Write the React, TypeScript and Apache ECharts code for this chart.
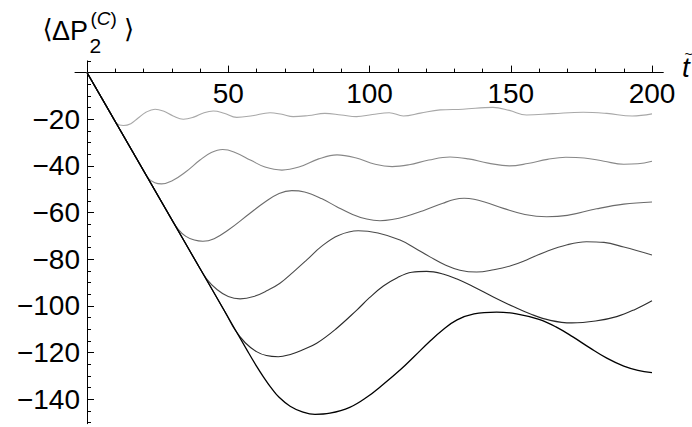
import React, { useEffect, useRef } from "react";
import * as echarts from "echarts";

// ---- data (t, <ΔP2^(C)>) ----
const curve1: [number, number][] = [
  [0, 0], [5, -10.5], [8, -16.8], [10.5, -21.8], [12.9, -22.7], [15.5, -21.9], [18, -19.6], [21, -16.9],
  [24.1, -15.7], [27, -16.5], [30.5, -18.6], [34.1, -20], [38, -19], [41, -17.4], [44.7, -16.5],
  [48.5, -17.4], [53, -19.2], [58.5, -18.5], [64.8, -17.2], [69, -17.9], [73, -18.9], [78.5, -18.4],
  [84.2, -17.5], [90, -18.2], [95.4, -18.9], [101, -18], [107, -17.2], [112, -18.6], [118, -17.4],
  [125, -16], [133, -15.7], [143.7, -14.9], [149.5, -16.2], [155.6, -18.2], [165, -17.6],
  [175.6, -17], [184, -17.5], [193, -18.6], [200, -17.7],
];
const curve2: [number, number][] = [
  [0, 0], [10, -21], [19, -39.9], [21.7, -45.3], [24, -47.2], [26.4, -47.7], [30, -46.5], [35, -42.5],
  [40, -37.5], [44, -34.3], [48, -33], [52, -34], [58, -37.6], [63, -40.5], [69, -41.8], [75, -40.5],
  [82, -37], [88.5, -35.3], [95, -36.5], [102, -39.3], [108, -40.3], [114, -39.5], [121, -37.5],
  [128.5, -36.2], [135, -37], [142, -38.8], [149.5, -40], [156, -39], [163, -37.2], [169.5, -36.3],
  [176, -36.6], [183, -38], [190, -39.3], [195, -39.1], [200, -38],
];
const curve3: [number, number][] = [
  [0, 0], [10, -21], [20, -42], [29, -60.9], [32.3, -67.2], [35, -70.2], [38, -71.8], [41, -72.3], [45, -71.2],
  [50, -67.5], [57.7, -60.3], [63, -55.5], [68, -51.8], [72.5, -50.6], [77, -51.2], [83, -54],
  [88.4, -57.5], [94, -60.8], [99, -62.8], [103.7, -63.5], [108, -63], [113, -61.6], [119, -59.2],
  [126, -56], [130, -54.4], [133.5, -53.9], [137, -54.3], [141, -55.6], [147.4, -58.2], [155, -60.8],
  [162.7, -61.8], [170, -61.2], [180.4, -58.4], [190, -56.4], [200, -55.5],
];
const curve4: [number, number][] = [
  [0, 0], [10, -21], [20, -42], [30, -63], [39, -81.9], [42.4, -88.5], [46, -93], [50, -96], [54.2, -97],
  [59, -96], [64, -93.3], [68.3, -90.3], [73, -85.5], [77.8, -80.3], [83, -74.5], [89, -69.8],
  [96, -67.8], [103, -68.8], [110.8, -71.8], [116, -75.2], [121.4, -79], [127, -82.6],
  [132, -84.7], [137.9, -85.5], [144, -84.5], [150, -82.8], [155.6, -80.3], [162, -77], [170, -73.8],
  [176.8, -72.5], [183, -72.8], [190, -74.8], [200, -78.2],
];
const curve5: [number, number][] = [
  [0, 0], [10, -21], [20, -42], [30, -63], [40, -84], [49, -102.9], [52.4, -110.3], [56, -115.8],
  [60, -119.6], [63.5, -121.3], [67.7, -121.8], [72, -120.8], [76, -119], [81.3, -116], [88, -110],
  [95.5, -101.8], [100, -96.5], [104.9, -91.5], [110, -87.8], [115, -85.6], [120.2, -85.2],
  [126, -86.3], [131, -88.5], [136.8, -91.8], [144, -96.3], [150.9, -100.3], [157, -103.5],
  [164, -106.2], [171.6, -107.3], [180, -106.5], [187.5, -104.6], [194, -101.5], [200, -97.8],
];
const curve6: [number, number][] = [
  [0, 0], [10, -21], [20, -42], [30, -63], [40, -84], [50, -105], [57, -119.7], [60, -125.8],
  [62.5, -130.5], [65, -134.8], [68, -139.2], [71.9, -143], [76, -145.3], [80.7, -146.5], [86, -146],
  [93, -143.5], [99, -139.2], [105, -133.5], [111, -127.3], [116, -121.5], [121, -115.6],
  [126, -110.2], [131, -106], [137, -103.4], [145, -102.7], [152, -103.4], [160, -105.8],
  [166, -109], [172, -113.3], [178, -118], [184, -122.4], [190, -125.8], [195, -127.6], [200, -128.6],
];
const curves = [curve1, curve2, curve3, curve4, curve5, curve6];
const curveColors = ["#a8a8a8", "#888888", "#6a6a6a", "#4a4a4a", "#2a2a2a", "#000000"];
const curveWidths = [1.1, 1.1, 1.1, 1.1, 1.1, 1.3];

const xMajorTicks = [50, 100, 150, 200];
const xMinorTicks = [10, 20, 30, 40, 60, 70, 80, 90, 110, 120, 130, 140, 160, 170, 180, 190];
const yMajorTicks = [-20, -40, -60, -80, -100, -120, -140];
const yMinorTicks = [
  5, -5, -10, -15, -25, -30, -35, -45, -50, -55, -65, -70, -75, -85, -90, -95,
  -105, -110, -115, -125, -130, -135, -145, -150,
];
const xRange = [-4.25, 204];
const yRange = [-150.5, 5];

const FONT = '"Liberation Sans", Arial, Helvetica, sans-serif';

export default function App() {
  const ref = useRef<HTMLDivElement>(null);
  useEffect(() => {
    if (!ref.current) return;
    const chart = echarts.init(ref.current, null, { renderer: "svg" });
    const fmt = (v: number) => (v < 0 ? "\u2212" + Math.abs(v) : String(v));
    // grid geometry: x=0 sits at 87px, y=0 sits at 72.6px
    const gridLeft = 75;
    const gridTop = 60.9;
    const xAxisOffset = -11.7; // moves the top x axis down onto y = 0
    const yAxisOffset = -12; // moves the left y axis right onto x = 0
    const baseX = {
      type: "value",
      min: xRange[0],
      max: xRange[1],
      position: "top",
      offset: xAxisOffset,
      splitLine: { show: false },
      axisLine: { onZero: false, lineStyle: { color: "#000", width: 1 } },
    };
    const baseY = {
      type: "value",
      min: yRange[0],
      max: yRange[1],
      position: "left",
      offset: yAxisOffset,
      splitLine: { show: false },
      axisLine: { onZero: false, lineStyle: { color: "#000", width: 1 } },
    };
    chart.setOption({
      animation: false,
      backgroundColor: "#ffffff",
      grid: {
        left: gridLeft,
        right: 28.7,
        top: gridTop,
        bottom: 3.3,
        containLabel: false,
        outerBoundsMode: "none",
      },
      xAxis: [
        {
          ...baseX,
          axisTick: { show: true, inside: false, length: 7, customValues: xMajorTicks, lineStyle: { color: "#000" } },
          axisLabel: {
            show: true,
            inside: true,
            customValues: xMajorTicks,
            margin: 7,
            fontSize: 28,
            fontFamily: FONT,
            color: "#000",
            formatter: fmt,
          },
        },
        {
          ...baseX,
          axisLine: { ...baseX.axisLine, show: false },
          axisTick: { show: true, inside: false, length: 4, customValues: xMinorTicks, lineStyle: { color: "#000" } },
          axisLabel: { show: false },
        },
      ],
      yAxis: [
        {
          ...baseY,
          axisTick: { show: true, inside: true, length: 7, customValues: yMajorTicks, lineStyle: { color: "#000" } },
          axisLabel: {
            show: true,
            customValues: yMajorTicks,
            margin: 7,
            fontSize: 28,
            fontFamily: FONT,
            color: "#000",
            formatter: fmt,
          },
        },
        {
          ...baseY,
          axisLine: { ...baseY.axisLine, show: false },
          axisTick: { show: true, inside: true, length: 4, customValues: yMinorTicks, lineStyle: { color: "#000" } },
          axisLabel: { show: false },
        },
      ],
      series: curves.map((c, i) => ({
        type: "line",
        data: c,
        xAxisIndex: 0,
        yAxisIndex: 0,
        showSymbol: false,
        smooth: 0.4,
        lineStyle: { color: curveColors[i], width: curveWidths[i] },
        z: 2 + i,
        silent: true,
      })),
      graphic: [
        { type: "text", x: 42.5, y: 29, style: { text: "\u27E8", font: '26px "DejaVu Sans", sans-serif', fill: "#000", align: "left", verticalAlign: "middle" } },
        { type: "text", x: 52, y: 30.5, style: { text: "\u0394P", font: `27px ${FONT}`, fill: "#000", align: "left", verticalAlign: "middle" } },
        { type: "text", x: 89.5, y: 45, style: { text: "2", font: `21px ${FONT}`, fill: "#000", align: "left", verticalAlign: "middle" } },
        {
          type: "text",
          x: 90.5,
          y: 18.5,
          style: {
            text: "({c|C})",
            font: `19px ${FONT}`,
            fill: "#000",
            align: "left",
            verticalAlign: "middle",
            rich: { c: { fontStyle: "italic", fontSize: 19, fontFamily: FONT, fill: "#000" } },
          },
        },
        { type: "text", x: 124, y: 29, style: { text: "\u27E9", font: '26px "DejaVu Sans", sans-serif', fill: "#000", align: "left", verticalAlign: "middle" } },
        { type: "text", x: 682, y: 67, style: { text: "t", font: `italic 28px ${FONT}`, fill: "#000", align: "left", verticalAlign: "middle" } },
        { type: "text", x: 688.5, y: 54, style: { text: "~", font: `14px ${FONT}`, fill: "#000", align: "center", verticalAlign: "middle" } },
      ],
    });
    return () => chart.dispose();
  }, []);
  return (
    <div
      ref={ref}
      style={{ position: "fixed", left: 0, top: 0, width: 692, height: 427, background: "#fff" }}
    />
  );
}
